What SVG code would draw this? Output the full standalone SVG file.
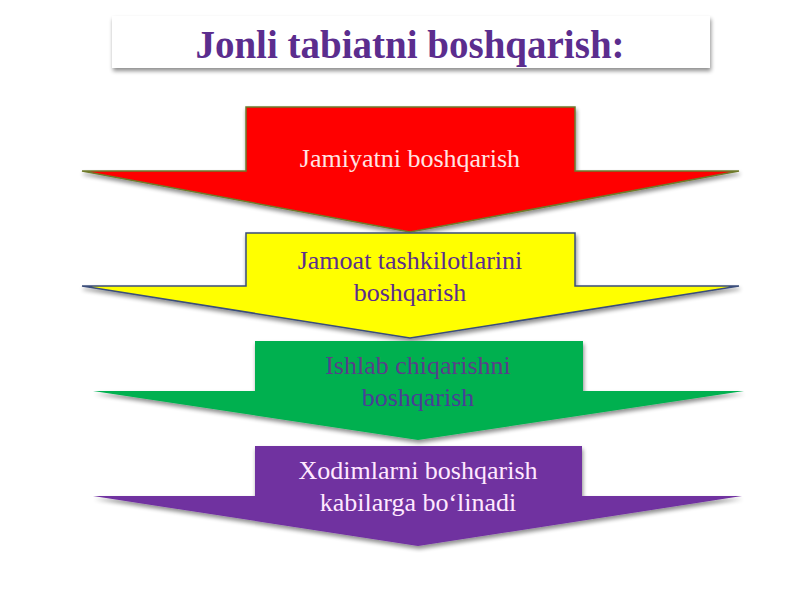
<svg xmlns="http://www.w3.org/2000/svg" width="800" height="600" viewBox="0 0 800 600">
<defs>
<filter id="sh" x="-10%" y="-20%" width="120%" height="150%">
<feGaussianBlur in="SourceAlpha" stdDeviation="2"/>
<feOffset dx="1" dy="3" result="b"/>
<feComponentTransfer><feFuncA type="linear" slope="0.45"/></feComponentTransfer>
<feMerge><feMergeNode/><feMergeNode in="SourceGraphic"/></feMerge>
</filter>
</defs>
<style>
.t{font-family:"Liberation Serif","Times New Roman",serif;text-anchor:middle;font-size:26px}
</style>
<rect width="800" height="600" fill="#ffffff"/>
<g id="title">
<rect x="112" y="16" width="598" height="52" fill="#ffffff" filter="url(#sh)"/>
<text x="410" y="58" class="t" style="font-size:39px;font-weight:bold" fill="#5B2D8E">Jonli tabiatni boshqarish:</text>
</g>
<g id="node-red">
<polygon points="246,107 575,107 575,171 739,171 410,232 82,171 246,171" fill="#FF0000" stroke="#6E7A2C" stroke-width="1.5" filter="url(#sh)"/>
<text x="410" y="167" class="t" fill="#FFE4E4">Jamiyatni boshqarish</text>
</g>
<g id="node-yellow">
<polygon points="246,233 575,233 575,286 739,286 410,338 82,286 246,286" fill="#FFFF00" stroke="#3A4E7A" stroke-width="1.5" filter="url(#sh)"/>
<text x="410" y="269" class="t" fill="#5B2D8E">Jamoat tashkilotlarini</text>
<text x="410" y="301" class="t" fill="#5B2D8E">boshqarish</text>
</g>
<g id="node-green">
<polygon points="255,341 583,341 583,391 744,391 418,440 93,391 255,391" fill="#00B050" filter="url(#sh)"/>
<text x="418" y="374" class="t" fill="#5A3E8A">Ishlab chiqarishni</text>
<text x="418" y="406" class="t" fill="#4A3E96">boshqarish</text>
</g>
<g id="node-purple">
<polygon points="255,446 582,446 582,496 742,496 418,546 93,496 255,496" fill="#7030A0" filter="url(#sh)"/>
<text x="418" y="479" class="t" fill="#FFE8FF">Xodimlarni boshqarish</text>
<text x="418" y="511" class="t" fill="#FFE8FF">kabilarga bo‘linadi</text>
</g>
<g id="connectors"/>
</svg>
